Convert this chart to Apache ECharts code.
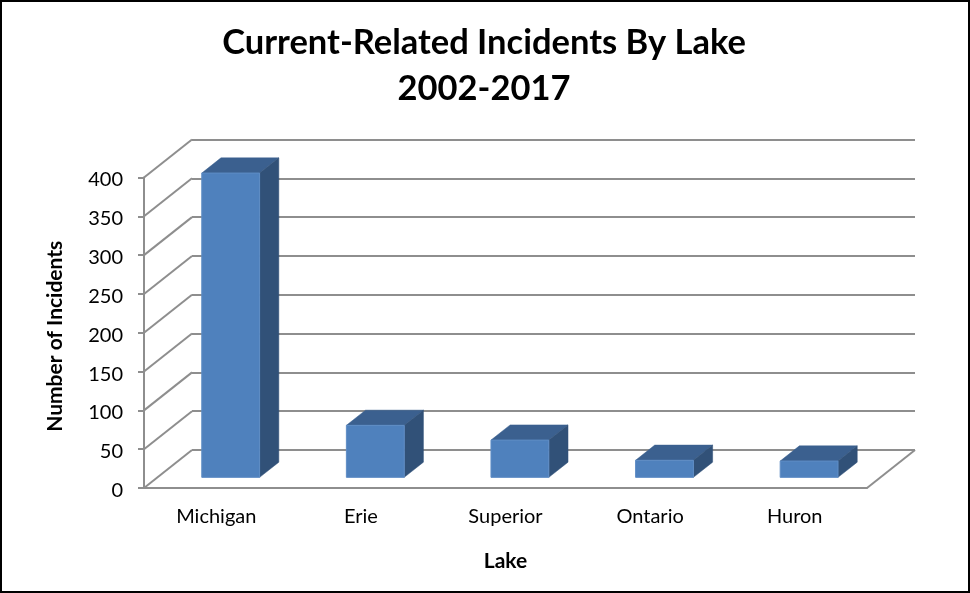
<!DOCTYPE html>
<html>
<head>
<meta charset="utf-8">
<style>html,body{margin:0;padding:0;background:#fff}#c{width:970px;height:593px}</style>
<script src="https://cdn.jsdelivr.net/npm/echarts@6/dist/echarts.min.js"></script>
</head>
<body>
<div id="c"></div>
<script>
const categories = ['Michigan', 'Erie', 'Superior', 'Ontario', 'Huron'];
const incidents = [392, 67, 48, 22, 21];
const yTicks = [0, 50, 100, 150, 200, 250, 300, 350, 400];
const titleText = 'Current-Related Incidents By Lake\n2002-2017';
const xAxisName = 'Lake';
const yAxisName = 'Number of Incidents';

const depthX = 48, depthY = 38;
const gridColor = '#8e8e8e';
const font = 'Lato';

const chart = echarts.init(document.getElementById('c'), null, {renderer: 'canvas'});

function poly(points, fill) {
  return {type: 'polygon', shape: {points}, style: {fill, stroke: fill, lineWidth: 0.5}};
}

chart.setOption({
  animation: false,
  backgroundColor: '#fff',
  title: {
    text: titleText, left: 484, top: 15, textAlign: 'center', padding: [5, 9, 5, 0],
    textStyle: {fontFamily: font, fontWeight: 'bold', fontSize: 34.5, lineHeight: 46, color: '#000'}
  },
  grid: [
    {left: 144, right: 103, top: 177.5, bottom: 105},
    {left: 144 + depthX, right: 103 - depthX, top: 177.5 - depthY, bottom: 105 + depthY}
  ],
  xAxis: [
    {
      type: 'category', gridIndex: 0, data: categories,
      axisLine: {show: true, lineStyle: {color: gridColor, width: 2}},
      axisTick: {show: false},
      axisLabel: {fontFamily: font, fontSize: 20, color: '#000', margin: 19},
      name: xAxisName, nameLocation: 'middle', nameGap: 63,
      nameTextStyle: {fontFamily: font, fontSize: 21, fontWeight: 'bold', color: '#000'}
    },
    {type: 'category', gridIndex: 1, data: categories, show: false}
  ],
  yAxis: [
    {
      type: 'value', gridIndex: 0, min: 0, max: 400, interval: 50,
      axisLine: {show: true, lineStyle: {color: gridColor, width: 2}},
      axisTick: {show: true, length: 6, lineStyle: {color: gridColor, width: 2}},
      splitLine: {show: false},
      axisLabel: {
        fontFamily: font, fontSize: 20, color: '#000', margin: 21,
        formatter: '{t|{value}}',
        rich: {t: {fontFamily: font, fontSize: 20, color: '#000', padding: [5, 0, 0, 0]}}
      },
      name: yAxisName, nameLocation: 'middle', nameGap: 78,
      nameTextStyle: {fontFamily: font, fontSize: 21, fontWeight: 'bold', color: '#000', padding: [0, 7, 0, 0]}
    },
    {
      type: 'value', gridIndex: 1, min: 0, max: 400, interval: 50,
      axisLine: {show: false}, axisTick: {show: false}, axisLabel: {show: false},
      splitLine: {show: true, lineStyle: {color: gridColor, width: 2}}
    }
  ],
  series: [
    {
      type: 'custom', xAxisIndex: 0, yAxisIndex: 0, silent: true, z: 1, clip: false,
      coordinateSystem: 'cartesian2d',
      data: yTicks.map(v => [0, v]),
      encode: {x: 0, y: 1},
      renderItem(params, api) {
        const cs = params.coordSys;
        const y = api.coord([0, api.value(1)])[1];
        const children = [{
          type: 'line',
          shape: {x1: cs.x, y1: y, x2: cs.x + depthX, y2: y - depthY},
          style: {stroke: gridColor, lineWidth: 2}
        }];
        if (api.value(1) === 0) {
          children.push({
            type: 'line',
            shape: {x1: cs.x + cs.width, y1: y, x2: cs.x + cs.width + depthX, y2: y - depthY},
            style: {stroke: gridColor, lineWidth: 2}
          });
        }
        return {type: 'group', children};
      }
    },
    {
      type: 'custom', xAxisIndex: 0, yAxisIndex: 0, silent: true, z: 5, clip: false,
      coordinateSystem: 'cartesian2d',
      data: incidents.map((v, i) => [i, v]),
      encode: {x: 0, y: 1},
      renderItem(params, api) {
        const c = api.coord([api.value(0), api.value(1)]);
        const base = api.coord([api.value(0), 0]);
        const w = api.size([1, 0])[0] * 0.4;
        const gx = depthX * 0.3, gy = depthY * 0.28;
        const dx = depthX * 0.4, dy = depthY * 0.4;
        const l = c[0] - w / 2 + gx, r = l + w;
        const t = c[1] - gy, b = base[1] - gy;
        return {
          type: 'group',
          children: [
            poly([[l, t], [r, t], [r + dx, t - dy], [l + dx, t - dy]], '#3b608f'),
            poly([[r, t], [r, b], [r + dx, b - dy], [r + dx, t - dy]], '#315178'),
            {type: 'rect', shape: {x: l, y: t, width: w, height: b - t},
             style: {fill: '#4f81bd', stroke: '#5f8dc5', lineWidth: 1}}
          ]
        };
      }
    }
  ],
  graphic: [{
    type: 'rect', silent: true, z: 100,
    shape: {x: 1, y: 1, width: 968, height: 591},
    style: {fill: 'none', stroke: '#000', lineWidth: 2}
  }]
});
</script>
</body>
</html>
